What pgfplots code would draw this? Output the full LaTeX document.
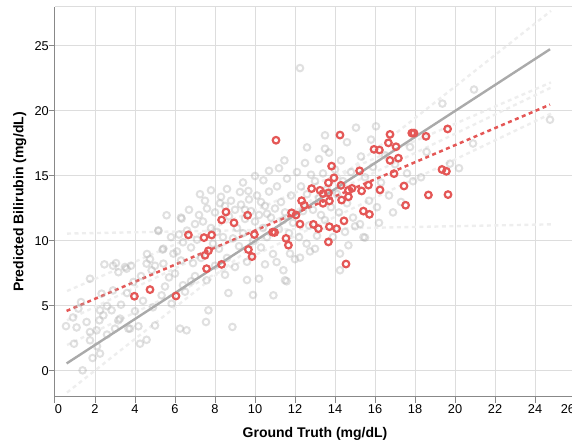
\documentclass[border=0pt]{standalone}
\usepackage{pgfplots}
\pgfplotsset{compat=1.18}
\usepackage{fontspec}
\setmainfont{Liberation Sans}
\definecolor{vred}{HTML}{E45756}
\definecolor{gridc}{HTML}{DDDDDD}
\definecolor{axc}{HTML}{888888}
\definecolor{idc}{HTML}{AAAAAA}
\definecolor{faint}{HTML}{EEEEEE}
\begin{document}
\begin{tikzpicture}
\begin{axis}[
  at={(0,0)}, anchor=south west,
  scale only axis, width=520pt, height=390pt,
  xmin=0, xmax=26, ymin=-2, ymax=28,
  axis x line*=bottom, axis y line*=left,
  axis line style={draw=axc, line width=1pt},
  xtick={0,2,...,26}, ytick={0,5,...,25},
  xticklabels={\rlap{0},2,4,6,8,10,12,14,16,18,20,22,24,\llap{26}},
  yticklabels={0,5,10,15,20,25},
  grid=major, major grid style={draw=gridc, line width=1pt},
  tick align=outside, major tick length=6pt,
  every tick/.style={draw=axc, line width=1pt},
  xticklabel style={anchor=north, inner sep=0pt, yshift=-1.5pt, font=\fontsize{12.8}{14}\selectfont},
  yticklabel style={anchor=east, inner sep=0pt, font=\fontsize{12.8}{14}\selectfont},
  xlabel={Ground Truth (mg/dL)},
  ylabel={Predicted Bilirubin (mg/dL)},
  every axis x label/.style={at={(axis description cs:0.5,-0.1026)}, anchor=base, font=\bfseries\fontsize{14}{16}\selectfont},
  every axis y label/.style={at={(axis description cs:-0.0606,0.5)}, anchor=base, rotate=90, font=\bfseries\fontsize{14}{16}\selectfont},
]
% faint fold regression lines
\addplot[faint, line width=2.4pt, dash pattern=on 4pt off 3.5pt] coordinates {(0.6,10.57) (24.8,11.28)};
\addplot[faint, line width=2.4pt, dash pattern=on 4pt off 3.5pt] coordinates {(0.6,-1.66) (24.8,27.7)};
\addplot[faint, line width=2.4pt, dash pattern=on 4pt off 3.5pt] coordinates {(0.6,6.15) (24.8,22.2)};
\addplot[faint, line width=2.4pt, dash pattern=on 4pt off 3.5pt] coordinates {(0.6,3.9) (24.8,21.8)};
\addplot[faint, line width=2.4pt, dash pattern=on 4pt off 3.5pt] coordinates {(0.6,2.0) (24.8,19.8)};
% other samples
\addplot[only marks, mark=o, mark size=3.3pt, mark options={draw=black!30, draw opacity=0.4, line width=2pt}] coordinates {
(0.55,3.45)(0.95,2.1)(1.08,3.35)(0.9,4.12)(1.17,4.8)(1.38,0.05)(1.75,3.0)(1.75,2.36)(1.88,1.0)(2.25,1.34)
(2.08,3.13)(2.22,3.9)(2.25,4.67)(2.42,4.28)(2.47,8.2)(2.6,5.0)(1.75,7.1)(2.33,5.95)(2.83,4.67)(1.58,3.77)
(2.1,1.9)(2.6,2.8)(1.3,5.3)(2.9,6.2)
(3.0,3.26)(3.05,8.3)(3.17,7.6)(3.25,4.03)(3.5,8.0)(3.67,3.26)(3.92,6.85)(4.17,3.44)(4.25,2.1)(4.58,2.4)
(4.58,8.26)(4.75,8.6)(4.83,7.75)(5.0,8.1)(5.38,9.34)(5.42,8.26)(5.33,5.82)(5.83,5.18)(5.92,9.03)(3.58,7.87)
(3.17,3.9)(3.75,3.26)(3.3,5.1)(4.0,4.6)(4.4,5.4)(4.9,4.9)(5.58,11.98)(5.17,10.77)(5.42,9.41)(5.17,10.82)
(4.3,7.3)(3.8,8.1)(5.7,7.2)(5.5,6.5)(5.0,3.5)(3.6,6.0)(4.6,9.0)(5.8,10.3)(2.9,8.1)
(6.0,7.5)(6.3,8.5)(6.4,6.6)(6.5,6.1)(6.25,3.26)(6.58,3.13)(7.58,6.98)(7.67,4.67)(7.55,3.77)(8.67,6.0)
(8.87,3.39)(8.5,7.4)(6.3,11.8)(6.7,12.4)(6.33,11.72)(7.25,13.6)(7.5,13.1)(8.25,12.9)(6.1,9.2)(6.4,9.9)
(6.6,10.8)(6.8,9.5)(6.9,8.3)(7.0,11.3)(7.1,10.1)(7.2,12.0)(7.3,8.7)(7.4,11.5)(7.6,12.5)(7.8,11.0)
(7.9,9.8)(8.0,12.2)(8.1,10.7)(8.2,9.4)(8.3,13.4)(8.4,10.3)(8.5,12.7)(8.6,8.7)(8.7,11.9)(8.8,13.1)
(8.9,10.2)(9.0,12.4)(8.0,8.1)(7.0,7.3)(6.2,10.5)(8.6,14.0)(7.8,13.9)(6.8,6.9)
(9.25,13.77)(9.67,13.85)(10.42,14.67)(9.1,11.0)(9.2,9.6)(9.3,12.8)(9.4,10.6)(9.5,11.7)(9.6,8.4)(9.7,13.2)
(9.8,12.3)(9.9,10.0)(10.0,11.5)(10.1,13.5)(10.2,12.0)(10.3,9.5)(10.4,11.0)(10.5,12.7)(10.6,10.3)(10.7,13.8)
(10.8,11.8)(10.9,9.0)(11.0,12.5)(11.1,14.2)(11.2,10.9)(11.3,13.0)(11.4,11.6)(11.5,12.2)(11.6,14.8)(11.7,10.6)
(11.8,13.5)(11.9,11.4)(9.4,14.5)(10.0,15.0)(10.7,15.4)(11.47,16.2)(10.92,5.82)(11.5,6.98)(11.08,8.38)(11.42,7.75)
(11.58,6.9)(11.75,9.03)(10.2,7.1)(9.6,7.0)(9.0,8.0)(10.5,8.2)(9.9,5.85)(12.0,8.6)(10.3,13.0)(9.5,12.4)
(11.2,15.6)(10.6,12.1)
(12.25,23.3)(13.5,18.13)(13.5,17.1)(12.58,9.8)(12.75,9.2)(12.25,8.72)(14.25,9.03)(14.67,9.67)(14.25,7.75)(12.1,15.3)
(12.3,14.2)(12.4,12.3)(12.5,16.0)(12.6,13.6)(12.7,11.2)(12.8,15.1)(12.9,12.4)(13.0,14.6)(13.1,10.4)(13.2,16.3)
(13.3,12.0)(13.4,15.2)(13.5,11.6)(13.6,14.0)(13.7,16.8)(13.8,12.6)(13.9,10.3)(14.0,15.5)(14.1,13.6)(14.2,12.2)
(14.3,16.2)(14.4,14.6)(14.5,10.7)(14.6,12.9)(14.8,15.3)(14.9,11.8)(12.2,10.3)(13.0,9.4)(15.0,11.13)(15.25,11.3)
(12.6,17.2)(14.6,17.6)(13.2,13.3)
(15.05,18.72)(16.05,18.82)(15.42,10.3)(15.5,10.26)(15.3,16.5)(15.5,14.9)(15.7,13.1)(15.9,15.7)(16.1,12.6)(16.3,14.5)
(16.5,16.6)(16.7,13.5)(17.0,15.9)(17.3,13.0)(17.75,17.23)(17.6,15.2)(16.2,11.4)(15.8,17.8)(17.9,14.6)(16.9,12.2)
(19.37,20.57)(20.95,21.65)(24.75,19.33)(20.9,17.5)(18.58,16.85)(19.75,15.95)(18.3,14.9)(20.2,15.6)
};
% identity line
\addplot[idc, line width=2.4pt] coordinates {(0.58,0.58) (24.75,24.75)};
% regression line
\addplot[vred, line width=2.5pt, dash pattern=on 4pt off 3.5pt] coordinates {(0.58,4.62) (24.75,20.49)};
% highlighted samples
\addplot[only marks, mark=o, mark size=3.3pt, mark options={draw=vred, line width=2.2pt}] coordinates {
(11.05,17.75)(14.25,18.15)(16.75,18.2)(17.84,18.3)(17.95,18.3)(18.55,18.05)(19.63,18.62)(16.67,17.55)(17.05,17.25)(15.95,17.05)
(16.22,17.0)(16.75,16.2)(17.17,16.37)(13.83,15.76)(15.23,15.4)(13.95,14.86)(16.95,15.18)(19.35,15.5)(19.57,15.36)(13.67,14.48)
(12.83,14.03)(13.25,13.9)(13.4,13.65)(13.67,13.7)(14.3,14.28)(14.67,13.9)(14.85,14.05)(15.33,13.85)(15.67,14.3)(16.25,13.93)
(17.45,14.23)(18.67,13.54)(19.65,13.57)(17.53,12.75)(14.33,13.15)(14.67,13.4)(12.33,13.1)(12.47,12.75)(13.4,12.9)(13.72,13.08)
(15.42,12.3)(15.72,12.05)(11.83,12.17)(12.05,12.0)(12.25,11.3)(12.92,11.28)(13.17,10.95)(13.72,11.1)(14.08,10.95)(14.45,11.55)
(13.67,9.93)(14.55,8.23)(11.55,10.2)(11.67,9.68)(10.88,10.68)(10.98,10.66)(9.97,10.5)(9.67,9.34)(9.85,8.8)(8.55,12.23)
(8.33,11.62)(8.95,11.4)(9.63,11.98)(6.67,10.47)(7.45,10.26)(7.83,10.46)(7.5,8.9)(7.67,9.25)(7.58,7.87)(8.33,8.2)
(3.97,5.75)(4.75,6.26)(6.05,5.77)
};
\draw[gridc, line width=1pt] (rel axis cs:0,1) -- (rel axis cs:1,1) -- (rel axis cs:1,0);
\end{axis}
\pgfresetboundingbox
\path[use as bounding box] (-55pt,-46pt) rectangle (517pt,397pt);
\end{tikzpicture}
\end{document}
